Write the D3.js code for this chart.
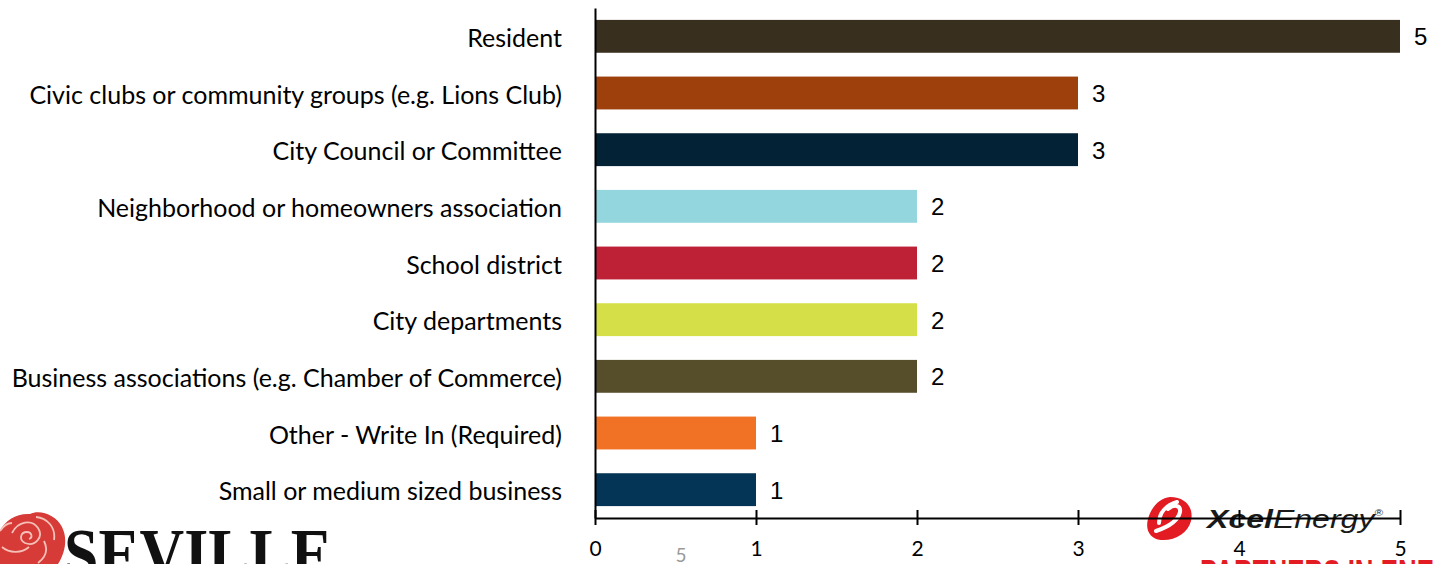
<!DOCTYPE html>
<html>
<head>
<meta charset="utf-8">
<script src="https://cdn.jsdelivr.net/npm/d3@7/dist/d3.min.js"></script>
<style>
  html, body { margin: 0; padding: 0; background: #ffffff; overflow: hidden; }
  svg { display: block; }
</style>
</head>
<body>
<svg id="chart" width="1434" height="564"></svg>
<script>
// Survey responses: which stakeholder groups were involved
const categories = [
  "Resident",
  "Civic clubs or community groups (e.g. Lions Club)",
  "City Council or Committee",
  "Neighborhood or homeowners association",
  "School district",
  "City departments",
  "Business associations (e.g. Chamber of Commerce)",
  "Other - Write In (Required)",
  "Small or medium sized business"
];
const counts = [5, 3, 3, 2, 2, 2, 2, 1, 1];
const barColors = [
  "#382f1e", "#9e400c", "#032236", "#94d6de", "#be2035",
  "#d5e048", "#564d2b", "#f27225", "#053556"
];
const xTicks = [0, 1, 2, 3, 4, 5];

const svg = d3.select("#chart");
const labelFont = "Lato, 'Open Sans', sans-serif";

const x = d3.scaleLinear().domain([0, 5]).range([595, 1400]);
const y = d3.scaleBand()
  .domain(categories)
  .range([8, 518])
  .paddingInner(0.42)
  .paddingOuter(0.21);

// Bars
svg.append("g")
  .selectAll("rect")
  .data(categories)
  .join("rect")
  .attr("x", x(0))
  .attr("y", d => y(d))
  .attr("width", (d, i) => x(counts[i]) - x(0))
  .attr("height", y.bandwidth())
  .attr("fill", (d, i) => barColors[i]);

// Value labels at bar ends
svg.append("g")
  .selectAll("text")
  .data(categories)
  .join("text")
  .attr("x", (d, i) => x(counts[i]) + 14)
  .attr("y", d => y(d) + y.bandwidth() / 2)
  .attr("dy", "0.38em")
  .attr("font-family", "'Liberation Sans', Arial, sans-serif")
  .attr("font-size", 24)
  .attr("fill", "#000")
  .text((d, i) => counts[i]);

// Category axis
const yAxis = svg.append("g")
  .attr("transform", `translate(${x(0)},0)`)
  .call(d3.axisLeft(y).tickSize(0).tickPadding(33));
yAxis.select(".domain").attr("stroke", "#000").attr("stroke-width", 2);
yAxis.selectAll("text")
  .attr("dy", "0.42em")
  .attr("font-family", labelFont)
  .attr("font-size", 25)
  .attr("fill", "#000");

// Value axis with ticks crossing the line
const xAxis = svg.append("g")
  .attr("transform", "translate(0,518)")
  .call(d3.axisBottom(x).tickValues(xTicks).tickSizeOuter(0).tickFormat(d3.format("d")));
xAxis.select(".domain").attr("stroke", "#000").attr("stroke-width", 2);
xAxis.selectAll(".tick line")
  .attr("y1", -8).attr("y2", 7)
  .attr("stroke", "#000").attr("stroke-width", 2);
xAxis.selectAll(".tick text")
  .attr("y", 30)
  .attr("dy", "0.36em")
  .attr("font-family", labelFont)
  .attr("font-size", 21)
  .attr("fill", "#000");

// Slide page number
svg.append("text")
  .attr("x", 681).attr("y", 562)
  .attr("text-anchor", "middle")
  .attr("font-family", labelFont)
  .attr("font-size", 19)
  .attr("fill", "#9a9a9a")
  .text("5");

// Seville logo (rose + wordmark), clipped by the slide edge
const seville = svg.append("g");
const rose = seville.append("g").attr("transform", "translate(32,545)");
rose.append("path")
  .attr("d", "M-34,-6 C-32,-22 -18,-32 -2,-31 C8,-36 24,-30 30,-18 C36,-6 33,8 26,19 L-34,19 Z")
  .attr("fill", "#d63b37");
rose.append("path")
  .attr("d", "M-20,-12 C-14,-24 0,-26 6,-17 C12,-8 3,2 -7,-2 C-13,-5 -12,-13 -5,-13 C0,-13 1,-7 -3,-6 M4,-28 C15,-27 24,-18 22,-5 M-30,2 C-22,9 -10,8 -3,2 M12,-4 C16,4 14,12 6,18 M-32,-14 C-28,-20 -24,-22 -20,-22")
  .attr("fill", "none")
  .attr("stroke", "#f4c0b8")
  .attr("stroke-width", 1.8);
seville.append("text")
  .attr("x", 64).attr("y", 578)
  .attr("font-family", "'Liberation Serif', 'DejaVu Serif', serif")
  .attr("font-weight", "bold")
  .attr("font-size", 72)
  .attr("textLength", 268)
  .attr("lengthAdjust", "spacingAndGlyphs")
  .attr("fill", "#111")
  .text("SEVILLE");

// Xcel Energy logo
const xcel = svg.append("g");
xcel.append("path")
  .attr("d", "M1170,497 C1186,497 1194,508 1191,521 C1188,533 1175,541 1161,540 C1150,539 1145,530 1148,519 C1151,507 1160,498 1170,497 Z")
  .attr("fill", "#e31b23");
xcel.append("path")
  .attr("d", "M1156,531 C1168,527 1178,521 1180,512 C1181,505 1174,504 1168,509 M1159,523 C1159,512 1167,505 1177,502")
  .attr("fill", "none")
  .attr("stroke", "#ffffff")
  .attr("stroke-width", 4)
  .attr("stroke-linecap", "round");
const xcelText = xcel.append("text")
  .attr("x", 1207).attr("y", 528)
  .attr("font-family", "'Liberation Sans', Arial, sans-serif")
  .attr("font-size", 25)
  .attr("font-style", "italic")
  .attr("textLength", 176)
  .attr("lengthAdjust", "spacingAndGlyphs")
  .attr("fill", "#1a1a1a");
xcelText.append("tspan").attr("font-weight", "bold").text("Xcel");
xcelText.append("tspan").text("Energy");
xcelText.append("tspan").attr("font-size", 9).attr("dy", -12).text("®");

svg.append("text")
  .attr("x", 1200).attr("y", 587)
  .attr("font-family", "'Liberation Sans', Arial, sans-serif")
  .attr("font-weight", "bold")
  .attr("font-size", 38)
  .attr("textLength", 290)
  .attr("lengthAdjust", "spacingAndGlyphs")
  .attr("fill", "#e31b23")
  .text("PARTNERS IN ENERGY");

// Axis line drawn across the logo, as on the slide
xAxis.raise();
</script>
</body>
</html>
